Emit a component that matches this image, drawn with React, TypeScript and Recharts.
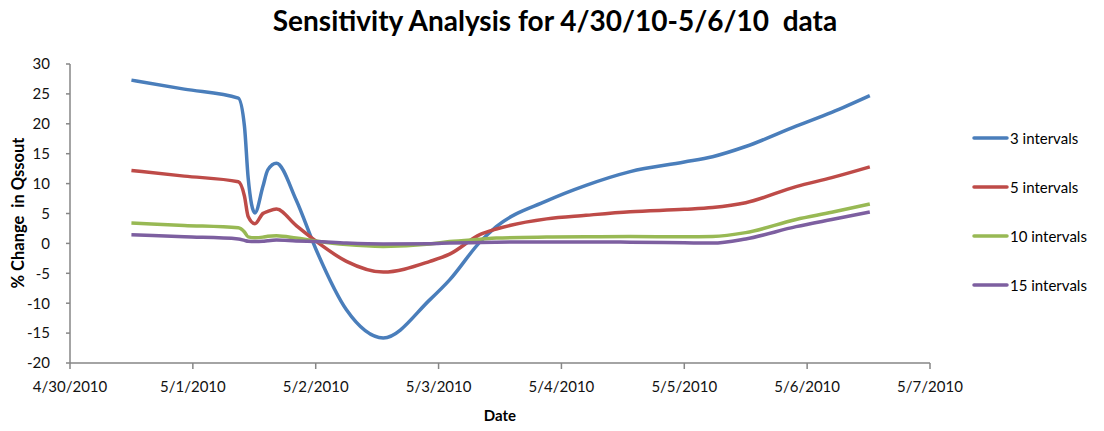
import React from "react";
import { LineChart, Line, XAxis, YAxis, Legend } from "recharts";

// time in days after 4/30/2010 00:00
const days = [
    0.5, 0.93, 1.37, 1.42, 1.45, 1.505, 1.57, 1.61, 1.68, 1.84, 2.0, 2.25, 2.55, 2.93,
    3.09, 3.34, 3.47, 3.88, 4.2, 4.56, 5.0, 5.23, 5.5, 5.91, 6.2, 6.51,
];

const int3 = [
    27.3, 25.8, 24.3, 19.6, 11.0, 5.1, 9.5, 12.3, 13.4, 7.3, -0.9, -11.1, -15.8, -9.4,
    -6.1, 0.3, 2.8, 7.1, 9.7, 12.0, 13.6, 14.5, 16.2, 19.6, 21.9, 24.7,
];
const int5 = [
    12.2, 11.25, 10.3, 7.9, 4.5, 3.3, 5.0, 5.35, 5.75, 3.0, 0.4, -3.0, -4.8, -3.0,
    -1.8, 1.5, 2.4, 4.1, 4.7, 5.3, 5.7, 6.0, 6.8, 9.5, 11.0, 12.8,
];
const int10 = [
    3.4, 3.0, 2.6, 1.9, 1.1, 0.95, 1.05, 1.2, 1.3, 0.9, 0.4, -0.2, -0.5, -0.1,
    0.3, 0.7, 0.9, 1.05, 1.1, 1.15, 1.1, 1.15, 1.8, 4.0, 5.2, 6.6,
];
const int15 = [
    1.45, 1.1, 0.75, 0.5, 0.35, 0.3, 0.35, 0.45, 0.55, 0.4, 0.3, 0.05, -0.1, -0.05,
    0.05, 0.15, 0.2, 0.25, 0.25, 0.2, 0.1, 0.05, 0.75, 2.8, 4.0, 5.25,
];

const dateLabels = [
    "4/30/2010", "5/1/2010", "5/2/2010", "5/3/2010",
    "5/4/2010", "5/5/2010", "5/6/2010", "5/7/2010",
];
const yTicks = [-20, -15, -10, -5, 0, 5, 10, 15, 20, 25, 30];

const series = [
    { key: "i3", name: "3 intervals", color: "#4A7EBB", values: int3 },
    { key: "i5", name: "5 intervals", color: "#BE4B48", values: int5 },
    { key: "i10", name: "10 intervals", color: "#98B954", values: int10 },
    { key: "i15", name: "15 intervals", color: "#7D5FA0", values: int15 },
];

const data = days.map((t, i) => {
    const row: Record<string, number> = { t };
    series.forEach((s) => {
        row[s.key] = s.values[i];
    });
    return row;
});

const FONT = "Lato, 'Open Sans', sans-serif";
const AXIS = "#868686";

function LegendBox() {
    return (
        <div style={{ width: 130, fontFamily: FONT, fontSize: 15, color: "#000" }}>
            {series.map((s) => (
                <div key={s.key} style={{ display: "flex", alignItems: "center", height: 49 }}>
                    <svg width={37} height={10}>
                        <line x1={2} y1={5} x2={35} y2={5} stroke={s.color} strokeWidth={3.5} strokeLinecap="round" />
                    </svg>
                    <span style={{ marginLeft: 1 }}>{s.name}</span>
                </div>
            ))}
        </div>
    );
}

export default function App() {
    return (
        <div style={{ position: "absolute", left: 0, top: 0, width: 1104, height: 431, background: "#fff" }}>
            <div
                style={{
                    position: "absolute",
                    left: 0,
                    top: 3,
                    width: 1110,
                    textAlign: "center",
                    fontFamily: FONT,
                    fontWeight: 700,
                    fontSize: 28,
                    color: "#000",
                }}
            >
                Sensitivity Analysis for 4/30/10-5/6/10&nbsp;&nbsp;data
            </div>
            <LineChart
                width={1104}
                height={431}
                data={data}
                margin={{ top: 64, right: 44, bottom: 38, left: 0 }}
            >
                <XAxis
                    dataKey="t"
                    type="number"
                    domain={[0, 7]}
                    ticks={[0, 1, 2, 3, 4, 5, 6, 7]}
                    tickFormatter={(v) => dateLabels[v]}
                    height={30}
                    stroke={AXIS}
                    strokeWidth={1.5}
                    tickSize={6}
                    tickMargin={12}
                    tick={{ fontSize: 15, fill: "#111", fontFamily: FONT }}
                    label={() => (
                        <text x={500} y={421} textAnchor="middle" fontFamily={FONT} fontWeight={700} fontSize={15} fill="#000">
                            Date
                        </text>
                    )}
                />
                <YAxis
                    type="number"
                    domain={[-20, 30]}
                    ticks={yTicks}
                    width={70}
                    stroke={AXIS}
                    strokeWidth={1.5}
                    tickSize={4}
                    tickMargin={16}
                    tick={{ fontSize: 15, fill: "#111", fontFamily: FONT }}
                    label={() => (
                        <text
                            x={18}
                            y={213}
                            transform="rotate(-90 18 213)"
                            textAnchor="middle"
                            dominantBaseline="central"
                            fontFamily={FONT}
                            fontWeight={700}
                            fontSize={16.5}
                            fill="#000"
                        >
                            % Change&nbsp;&nbsp;in Qssout
                        </text>
                    )}
                />
                <Legend
                    layout="vertical"
                    align="right"
                    verticalAlign="middle"
                    wrapperStyle={{ left: 972, top: 113, width: 130 }}
                    content={() => <LegendBox />}
                />
                {series.map((s) => (
                    <Line
                        key={s.key}
                        dataKey={s.key}
                        name={s.name}
                        type="monotone"
                        stroke={s.color}
                        strokeWidth={3.5}
                        dot={false}
                        isAnimationActive={false}
                    />
                ))}
            </LineChart>
        </div>
    );
}
